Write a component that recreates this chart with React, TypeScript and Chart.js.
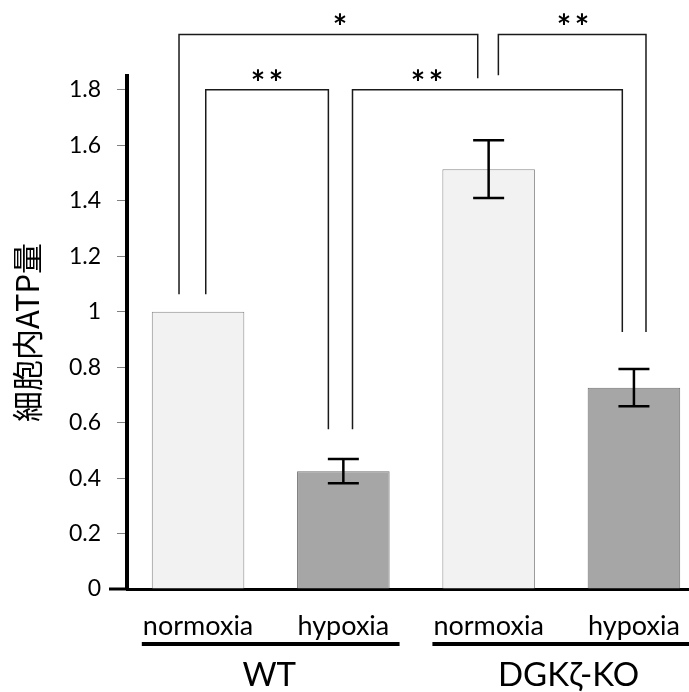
import { useEffect, useRef } from "react";
import { Chart, registerables } from "chart.js";

Chart.register(...registerables);

// ---- data ----
const categories = ["normoxia", "hypoxia", "normoxia", "hypoxia"];
const xPositions = [0, 1, 2, 3];
const atpValues = [1.0, 0.425, 1.514, 0.726];
const atpErrors = [0, 0.044, 0.104, 0.067];
const groupNames = ["WT", "DGKζ-KO"];
const groupStart = [0, 2];
const groupEnd = [1, 3];
const groupLabelX = [0.49, 2.55];
const yTickValues = [0, 0.2, 0.4, 0.6, 0.8, 1, 1.2, 1.4, 1.6, 1.8];
const yTickLabels = ["0", "0.2", "0.4", "0.6", "0.8", "1", "1.2", "1.4", "1.6", "1.8"];
const yTitle = "細胞内ATP量";

// significance brackets (in data units)
const bracketLabels = ["*", "**", "**", "**"];
const bracketLeftX = [-0.131, 0.053, 1.063, 2.067];
const bracketRightX = [1.925, 0.897, 2.92, 3.083];
const bracketTopY = [2.0, 1.8, 1.8, 2.0];
const bracketLeftEndY = [1.063, 1.063, 0.576, 1.853];
const bracketRightEndY = [1.842, 0.576, 0.927, 0.927];
const bracketLabelX = [0.977, 0.475, 1.576, 2.581];

const LATIN = 'Lato, "Open Sans", sans-serif';
const CJK = '"Noto Sans CJK JP", sans-serif';

const annotationPlugin = {
  id: "annotations",
  afterDatasetsDraw(chart: any) {
    const { ctx, scales, chartArea } = chart;
    const x = scales.x;
    const y = scales.y;
    ctx.save();
    // x-axis extension to the left of the y axis
    const y0 = y.getPixelForValue(0);
    ctx.strokeStyle = "#000";
    ctx.lineWidth = 3;
    ctx.beginPath();
    ctx.moveTo(chartArea.left - 18, y0);
    ctx.lineTo(chartArea.left, y0);
    ctx.stroke();

    // error bars
    const meta = chart.getDatasetMeta(0);
    ctx.lineWidth = 2.5;
    meta.data.forEach((bar: any, i: number) => {
      const e = atpErrors[i];
      if (!e) return;
      const cx = bar.x;
      const yt = y.getPixelForValue(atpValues[i] + e);
      const yb = y.getPixelForValue(atpValues[i] - e);
      ctx.beginPath();
      ctx.moveTo(cx, yt);
      ctx.lineTo(cx, yb);
      ctx.moveTo(cx - 15.5, yt);
      ctx.lineTo(cx + 15.5, yt);
      ctx.moveTo(cx - 15.5, yb);
      ctx.lineTo(cx + 15.5, yb);
      ctx.stroke();
    });

    // significance brackets
    ctx.lineWidth = 1.5;
    ctx.strokeStyle = "#1a1a1a";
    ctx.fillStyle = "#000";
    ctx.font = `bold 34px ${LATIN}`;
    ctx.textAlign = "center";
    ctx.textBaseline = "middle";
    bracketLabels.forEach((lab, i) => {
      const xl = x.getPixelForValue(bracketLeftX[i]);
      const xr = x.getPixelForValue(bracketRightX[i]);
      const yt = y.getPixelForValue(bracketTopY[i]);
      ctx.beginPath();
      ctx.moveTo(xl, y.getPixelForValue(bracketLeftEndY[i]));
      ctx.lineTo(xl, yt);
      ctx.lineTo(xr, yt);
      ctx.lineTo(xr, y.getPixelForValue(bracketRightEndY[i]));
      ctx.stroke();
      const cx = x.getPixelForValue(bracketLabelX[i]);
      const n = lab.length;
      for (let k = 0; k < n; k++) {
        ctx.fillText(lab[k], cx + (k - (n - 1) / 2) * 18, yt - 6);
      }
    });

    // group underlines and names
    ctx.font = `33px ${LATIN}`;
    ctx.lineWidth = 4;
    ctx.strokeStyle = "#000";
    groupNames.forEach((name, g) => {
      const xa = x.getPixelForValue(groupStart[g] - 0.387);
      const xb = x.getPixelForValue(groupEnd[g] + 0.387);
      const ly = chartArea.bottom + 55;
      ctx.beginPath();
      ctx.moveTo(xa, ly);
      ctx.lineTo(xb, ly);
      ctx.stroke();
      ctx.fillText(name, x.getPixelForValue(groupLabelX[g]), chartArea.bottom + 86);
    });
    ctx.restore();
  },
};

export default function App() {
  const ref = useRef<HTMLCanvasElement>(null);
  useEffect(() => {
    const canvas = ref.current;
    if (!canvas) return;
    const chart = new Chart(canvas, {
      type: "bar",
      data: {
        datasets: [
          {
            label: yTitle,
            data: xPositions.map((xv, i) => ({ x: xv, y: atpValues[i] })),
            backgroundColor: ["#f2f2f2", "#a6a6a6", "#f2f2f2", "#a6a6a6"],
            borderColor: ["#888888", "#707070", "#888888", "#707070"],
            borderWidth: 1,
            barPercentage: 0.637,
            categoryPercentage: 1,
          },
        ],
      },
      options: {
        responsive: false,
        animation: false,
        layout: { padding: { top: 76, left: 0, right: 0, bottom: 0 } },
        plugins: {
          legend: { display: false },
          tooltip: { enabled: false },
        },
        scales: {
          x: {
            type: "linear",
            min: -0.489,
            max: 3.379,
            bounds: "data",
            offset: false,
            grid: { display: false, offset: false },
            border: { display: true, width: 3, color: "#000" },
            afterBuildTicks: (scale: any) => {
              scale.ticks = xPositions.map((v) => ({ value: v }));
            },
            afterFit: (scale: any) => {
              scale.height = 103;
              scale.paddingLeft = 0;
              scale.paddingRight = 0;
            },
            ticks: {
              autoSkip: false,
              maxRotation: 0,
              minRotation: 0,
              padding: 13,
              color: "#000",
              font: { family: LATIN, size: 27 },
              callback: (_v: any, i: number) => categories[i],
            },
          },
          y: {
            type: "linear",
            min: 0,
            max: 1.85,
            bounds: "data",
            grid: {
              drawOnChartArea: false,
              drawTicks: true,
              tickLength: 10,
              tickColor: "#808080",
              tickWidth: 1,
            },
            border: { display: true, width: 4, color: "#000" },
            afterBuildTicks: (scale: any) => {
              scale.ticks = yTickValues.map((v) => ({ value: v }));
            },
            afterFit: (scale: any) => {
              scale.width = 127;
            },
            ticks: {
              padding: 16,
              color: "#000",
              font: { family: LATIN, size: 23 },
              callback: (_v: any, i: number) => yTickLabels[i],
            },
            title: {
              display: true,
              text: yTitle,
              color: "#000",
              font: { family: CJK, size: 31 },
              padding: { top: 9, bottom: 0 },
            },
          },
        },
      },
      plugins: [annotationPlugin],
    } as any);
    return () => chart.destroy();
  }, []);
  return (
    <div style={{ position: "fixed", left: 0, top: 0, width: 689, height: 692, background: "#fff" }}>
      <canvas ref={ref} width={689} height={692} style={{ display: "block", width: 689, height: 692 }} />
    </div>
  );
}
